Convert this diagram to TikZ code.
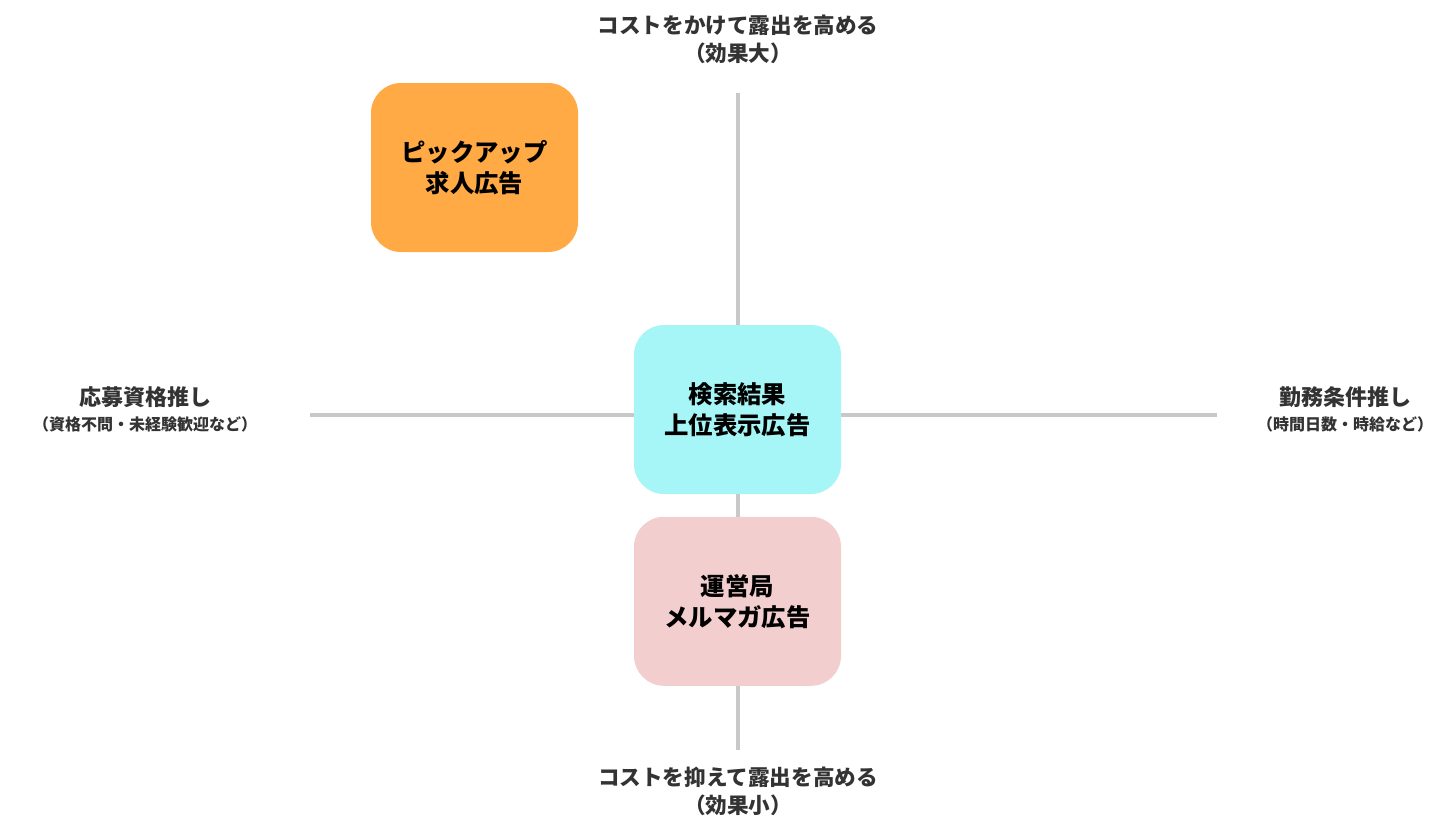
\documentclass[tikz,border=0pt]{standalone}
\usepackage{fontspec}
\setmainfont{Noto Sans CJK JP}
\usetikzlibrary{positioning,calc}
\definecolor{axisgray}{HTML}{C8C8C8}
\definecolor{labelgray}{HTML}{333333}
\definecolor{pickorange}{HTML}{FFAA44}
\definecolor{searchcyan}{HTML}{A6F6F8}
\definecolor{mailpink}{HTML}{F3CECE}
\begin{document}
\begin{tikzpicture}[x=0.5pt,y=-0.5pt,
    axis/.style={draw=axisgray,line width=2.2pt},
    card/.style={rounded corners=15pt,minimum width=103.5pt,minimum height=84.5pt,
      align=center,font=\fontsize{12.2}{15.5}\selectfont\bfseries,text=black},
    axislabel/.style={align=center,text=labelgray,font=\fontsize{10.8}{14}\selectfont\bfseries}]
    \useasboundingbox (0,0) rectangle (1454,837);
	  % axes
	  \coordinate (top) at (738,93); \coordinate (bottom) at (738,750);
	  \coordinate (left) at (310,415); \coordinate (right) at (1217,415);
	  \draw[axis] (top) -- (bottom);
	  \draw[axis] (left) -- (right);
	  % ad types
		\node[card,fill=pickorange] (pickup) at (474.5,167.5) {ピックアップ\\求人広告};
		\node[card,fill=searchcyan] (search) at (737.5,409.5) {検索結果\\上位表示広告};
		\node[card,fill=mailpink,below=11pt of search] (mail) {運営局\\メルマガ広告};
	  % axis labels
		\node[axislabel] (costhigh) at (738,39) {コストをかけて露出を高める\\（効果大）};
		\node[axislabel] (costlow) at (738,791) {コストを抑えて露出を高める\\（効果小）};
		\node[axislabel,font=\fontsize{11}{12.5}\selectfont\bfseries] (qualif) at (145,409)
		  {応募資格推し\\{\fontsize{8}{9}\selectfont（資格不問・未経験歓迎など）}};
		\node[axislabel,font=\fontsize{11}{12.5}\selectfont\bfseries] (workcond) at (1345,409)
		  {勤務条件推し\\{\fontsize{8}{9}\selectfont（時間日数・時給など）}};
\end{tikzpicture}
\end{document}
